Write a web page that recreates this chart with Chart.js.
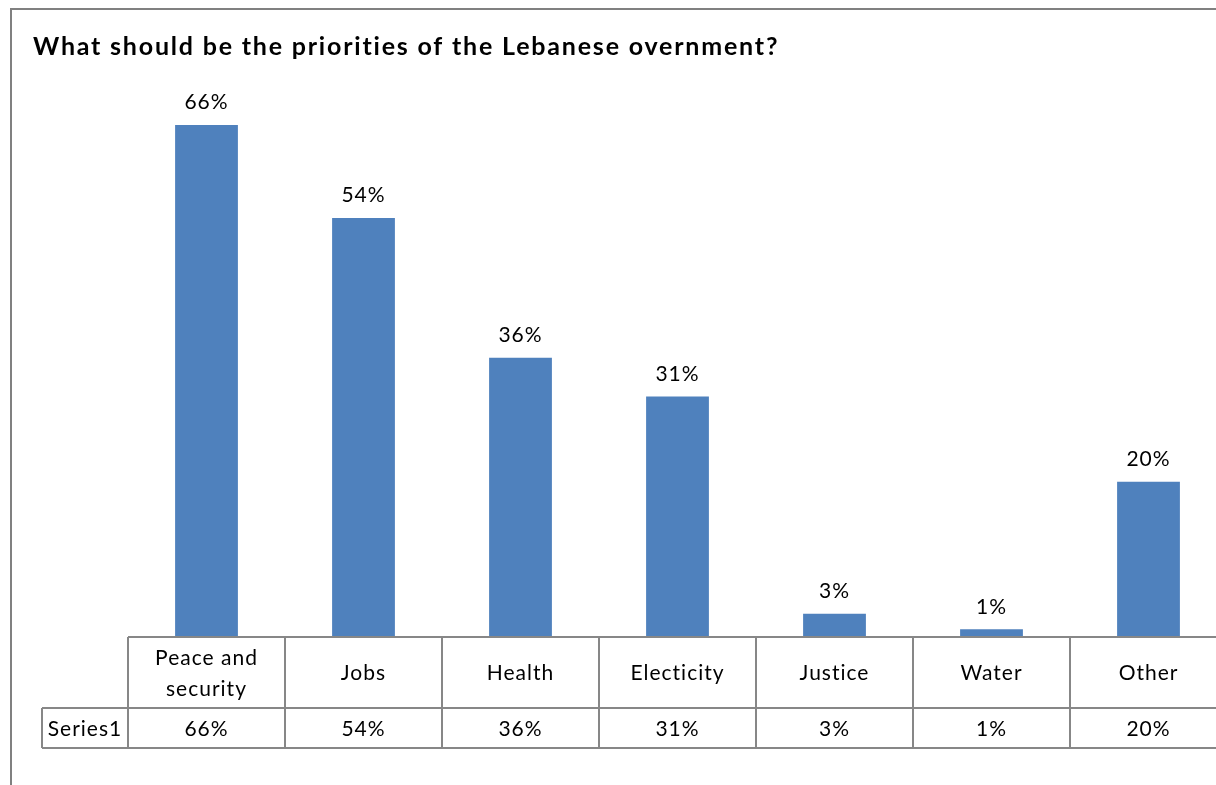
<!DOCTYPE html>
<html lang="en">
<head>
    <meta charset="UTF-8">
    <title>Priorities of the Lebanese government</title>
    <script src="https://cdn.jsdelivr.net/npm/chart.js"></script>
    <style>
        html, body { margin: 0; padding: 0; overflow: hidden; background: #fff; }
        #prioChart { position: absolute; left: 0; top: 0; }
    </style>
</head>
<body>

    <canvas id="prioChart" width="1240" height="785"></canvas>

    <script>
        // Survey answers
        const titleText = "What should be the priorities of the Lebanese overnment?";
        const categories = [["Peace and", "security"], "Jobs", "Health", "Electicity", "Justice", "Water", "Other"];
        const seriesName = "Series1";
        const values = [66, 54, 36, 31, 3, 1, 20];

        const FONT = "Lato, 'Liberation Sans', sans-serif";
        const GRID = "#878787";

        // Frame, title, value labels and the data table under the bars
        const tablePlugin = {
            id: "tablePlugin",
            afterDatasetsDraw(chart) {
                const ctx = chart.ctx;
                const area = chart.chartArea;
                const x = chart.scales.x;
                const meta = chart.getDatasetMeta(0);
                const step = x.getPixelForValue(1) - x.getPixelForValue(0);
                const left = area.left;
                const right = area.right;
                const base = area.bottom;
                const rowSplit = base + 71;
                const tableBottom = base + 111;
                const labelLeft = 42;

                ctx.save();

                // outer frame
                ctx.strokeStyle = "#808080";
                ctx.lineWidth = 2;
                ctx.beginPath();
                ctx.moveTo(11, chart.height);
                ctx.lineTo(11, 9);
                ctx.lineTo(chart.width, 9);
                ctx.stroke();

                // title
                ctx.fillStyle = "#000";
                ctx.font = "bold 25px " + FONT;
                ctx.letterSpacing = "1.8px";
                ctx.textAlign = "left";
                ctx.textBaseline = "alphabetic";
                ctx.fillText(titleText, 33, 55);

                // value labels above the bars
                ctx.font = "21px " + FONT;
                ctx.letterSpacing = "1px";
                ctx.textAlign = "center";
                ctx.textBaseline = "bottom";
                meta.data.forEach((bar, i) => {
                    ctx.fillText(values[i] + "%", bar.x, bar.y - 12);
                });

                // table grid
                ctx.strokeStyle = GRID;
                ctx.lineWidth = 2;
                ctx.beginPath();
                ctx.moveTo(left, base);
                ctx.lineTo(right, base);
                ctx.moveTo(labelLeft, rowSplit);
                ctx.lineTo(right, rowSplit);
                ctx.moveTo(labelLeft, tableBottom);
                ctx.lineTo(right, tableBottom);
                ctx.moveTo(labelLeft, rowSplit);
                ctx.lineTo(labelLeft, tableBottom);
                for (let i = 0; i <= categories.length; i++) {
                    const cx = Math.round(left + i * step);
                    ctx.moveTo(cx, base);
                    ctx.lineTo(cx, tableBottom);
                }
                ctx.stroke();

                // category names and values
                ctx.fillStyle = "#000";
                ctx.font = "21px " + FONT;
                ctx.letterSpacing = "1px";
                ctx.textBaseline = "middle";
                categories.forEach((cat, i) => {
                    const cx = x.getPixelForValue(i);
                    const lines = Array.isArray(cat) ? cat : [cat];
                    const lh = 31;
                    const y0 = (base + rowSplit) / 2 + 1 - (lines.length - 1) * lh / 2;
                    lines.forEach((ln, k) => ctx.fillText(ln, cx, y0 + k * lh));
                    ctx.fillText(values[i] + "%", cx, (rowSplit + tableBottom) / 2 + 1);
                });
                ctx.fillText(seriesName, (labelLeft + left) / 2, (rowSplit + tableBottom) / 2 + 1);

                ctx.restore();
            }
        };

        const ctx = document.getElementById("prioChart").getContext("2d");

        new Chart(ctx, {
            type: "bar",
            data: {
                labels: categories,
                datasets: [{
                    label: seriesName,
                    data: values,
                    backgroundColor: "#4F81BD",
                    borderWidth: 0,
                    categoryPercentage: 1.0,
                    barPercentage: 0.4
                }]
            },
            options: {
                responsive: false,
                animation: false,
                layout: { padding: { left: 128, right: 13, top: 94, bottom: 148 } },
                plugins: {
                    legend: { display: false },
                    title: { display: false },
                    tooltip: { enabled: false }
                },
                scales: {
                    x: { display: false },
                    y: { display: false, min: 0, max: 70 }
                }
            },
            plugins: [tablePlugin]
        });
    </script>

</body>
</html>
